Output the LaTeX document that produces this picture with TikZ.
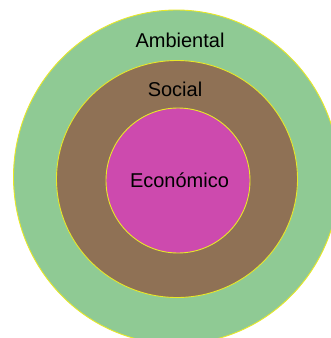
\documentclass[tikz,border=0pt]{standalone}
\usepackage{fontspec}
\setmainfont{Liberation Sans}
\definecolor{ringgreen}{RGB}{143,202,148}
\definecolor{ringbrown}{RGB}{143,113,85}
\definecolor{ringmag}{RGB}{205,74,174}
\definecolor{rimyellow}{RGB}{232,232,40}
\begin{document}
\begin{tikzpicture}[x=1pt,y=-1pt,
  ring/.style={draw=rimyellow,line width=0.9pt},
  lbl/.style={anchor=base,inner sep=0pt,font=\fontsize{20}{24}\selectfont,text=black}]
\useasboundingbox (0,0) rectangle (331,338);
\clip (0,0) rectangle (331,338);
\fill[white] (0,0) rectangle (331,338);
\path[ring,fill=ringgreen] (176.5,177) ellipse [x radius=163, y radius=167];
\path[ring,fill=ringbrown] (177,179) ellipse [x radius=120.5, y radius=118.5];
\path[ring,fill=ringmag] (178,180.5) ellipse [x radius=72, y radius=72.5];
\node[lbl] (amb) at (180,47) {Ambiental};
\node[lbl] (soc) at (175,96) {Social};
\node[lbl] (eco) at (179.5,187) {Económico};
\end{tikzpicture}
\end{document}
